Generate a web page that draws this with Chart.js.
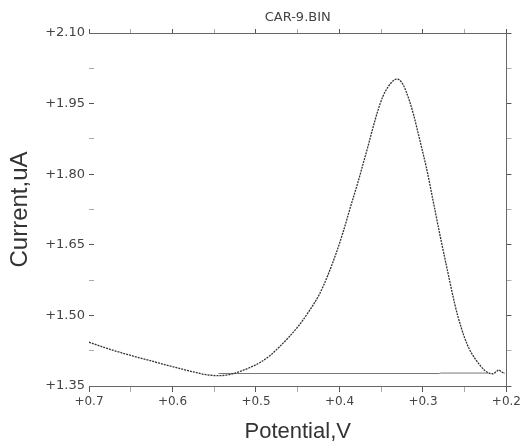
<!DOCTYPE html>
<html>
<head>
<meta charset="utf-8">
<script src="https://cdn.jsdelivr.net/npm/chart.js@4"></script>
<style>
  html, body { margin: 0; padding: 0; background: #fff; }
  canvas { display: block; }
</style>
</head>
<body>
<canvas id="voltChart" width="524" height="448"></canvas>
<script>
// scan data (potential in V, current in uA)
const potential = [0.700, 0.675, 0.650, 0.625, 0.600, 0.575, 0.560, 0.545, 0.530, 0.519,
                   0.505, 0.495, 0.483, 0.472, 0.460, 0.448, 0.436, 0.424, 0.414, 0.404,
                   0.396, 0.386, 0.378, 0.372, 0.366, 0.360, 0.354, 0.348, 0.342, 0.336,
                   0.332, 0.328, 0.324, 0.320, 0.316, 0.311, 0.306, 0.300, 0.296, 0.288,
                   0.280, 0.270, 0.262, 0.258, 0.250, 0.244, 0.238, 0.232, 0.226, 0.220,
                   0.216, 0.212, 0.209, 0.206, 0.202];
const current   = [1.443, 1.428, 1.415, 1.403, 1.391, 1.380, 1.374, 1.372, 1.375, 1.381,
                   1.391, 1.400, 1.415, 1.433, 1.455, 1.480, 1.510, 1.545, 1.585, 1.632,
                   1.675, 1.735, 1.782, 1.820, 1.858, 1.898, 1.935, 1.965, 1.985, 1.998,
                   2.002, 2.000, 1.991, 1.975, 1.955, 1.925, 1.889, 1.845, 1.815, 1.745,
                   1.674, 1.590, 1.525, 1.497, 1.452, 1.427, 1.409, 1.395, 1.383, 1.377,
                   1.376, 1.381, 1.384, 1.380, 1.377];

// flat baseline under the peak
const basePotential = [0.545, 0.280, 0.279, 0.222];
const baseCurrent   = [1.3765, 1.3765, 1.3775, 1.3775];

const X_MIN = 0.2, X_MAX = 0.7, X_STEP = 0.05;
const Y_MIN = 1.35, Y_MAX = 2.10, Y_STEP = 0.075;

const TEXT = '#444';
const AXIS = '#666';

function pairs(xs, ys) {
    return xs.map((x, i) => ({ x: x, y: ys[i] }));
}

function majorX(v) { return Math.round(v / X_STEP) % 2 === 0; }
function majorY(v) { return Math.round(v / Y_STEP) % 2 === 0; }

const tickCol = (isMajor) => (c => (c.tick && isMajor(c.tick.value)) ? '#555' : '#aaa');

const ctx = document.getElementById('voltChart').getContext('2d');
new Chart(ctx, {
    type: 'scatter',
    data: {
        datasets: [
            {
                data: pairs(potential, current),
                showLine: true,
                borderColor: '#333',
                borderWidth: 1.3,
                borderDash: [2, 1],
                pointRadius: 0,
                cubicInterpolationMode: 'monotone',
                fill: false
            },
            {
                data: pairs(basePotential, baseCurrent),
                showLine: true,
                borderColor: '#777',
                borderWidth: 1,
                pointRadius: 0,
                tension: 0,
                fill: false
            }
        ]
    },
    options: {
        responsive: false,
        animation: false,
        layout: { padding: 0 },
        plugins: { legend: { display: false }, tooltip: { enabled: false } },
        scales: {
            x: {
                type: 'linear', position: 'bottom', reverse: true,
                min: X_MIN, max: X_MAX,
                border: { display: true, color: AXIS, width: 1 },
                grid: { drawOnChartArea: false, tickLength: 6, tickColor: tickCol(majorX) },
                ticks: {
                    stepSize: X_STEP, padding: 3, maxRotation: 0, autoSkip: false,
                    color: TEXT, font: { family: 'DejaVu Sans', size: 12 },
                    callback: v => majorX(v) ? '+' + v.toFixed(1) : ''
                },
                title: {
                    display: true, text: 'Potential,V', color: '#333',
                    font: { family: 'Liberation Sans', size: 22 },
                    padding: { top: 0, bottom: 3 }
                },
                afterFit: s => { s.height = 62; }
            },
            x2: {
                type: 'linear', position: 'top', reverse: true,
                min: X_MIN, max: X_MAX,
                border: { display: true, color: AXIS, width: 1 },
                grid: { drawOnChartArea: false, tickLength: 4, tickColor: tickCol(majorX) },
                ticks: { stepSize: X_STEP, display: false },
                title: {
                    display: true, text: 'CAR-9.BIN', color: TEXT,
                    font: { family: 'DejaVu Sans', size: 13 },
                    padding: { top: 10, bottom: 0 }
                },
                afterFit: s => { s.height = 33; }
            },
            y: {
                type: 'linear', position: 'left',
                min: Y_MIN, max: Y_MAX,
                border: { display: false },
                grid: { drawOnChartArea: false, tickLength: -5, tickColor: tickCol(majorY) },
                ticks: {
                    stepSize: Y_STEP, padding: 9, autoSkip: false,
                    color: TEXT, font: { family: 'DejaVu Sans', size: 13 },
                    callback: v => majorY(v) ? '+' + v.toFixed(2) : ''
                },
                title: {
                    display: true, text: 'Current,uA', color: '#333',
                    font: { family: 'Liberation Sans', size: 24 },
                    padding: { top: 6, bottom: 0 }
                },
                afterFit: s => { s.width = 89; }
            },
            y2: {
                type: 'linear', position: 'right',
                min: Y_MIN, max: Y_MAX,
                border: { display: true, color: AXIS, width: 1 },
                grid: { drawOnChartArea: false, tickLength: 5, tickColor: tickCol(majorY) },
                ticks: { stepSize: Y_STEP, display: false },
                afterFit: s => { s.width = 17; }
            }
        }
    }
});
</script>
</body>
</html>
